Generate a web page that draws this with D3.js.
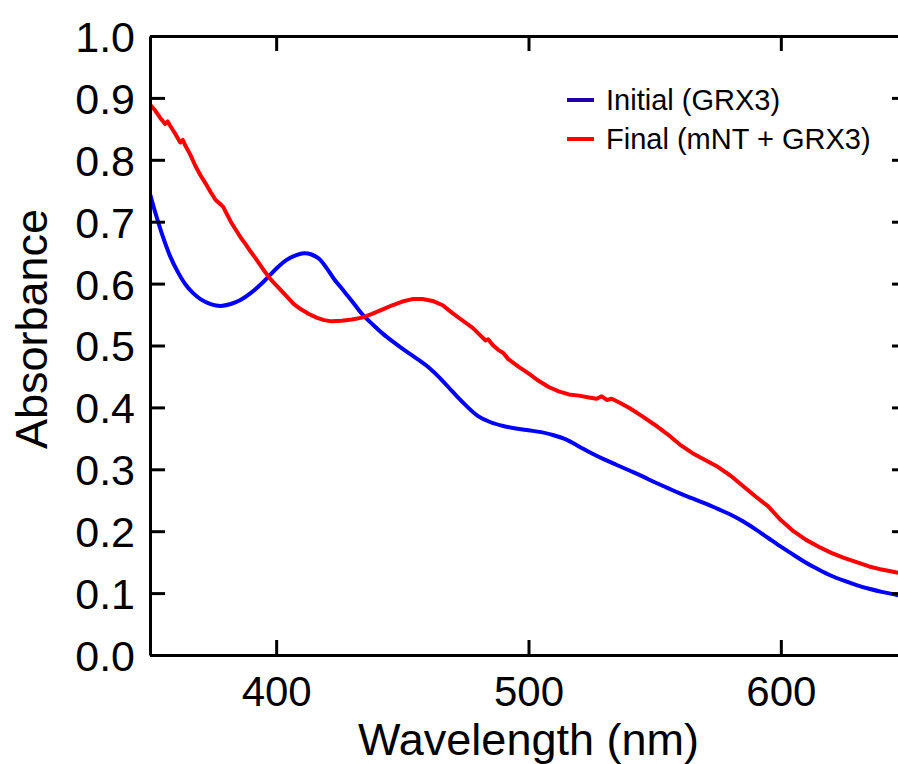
<!DOCTYPE html>
<html>
<head>
<meta charset="utf-8">
<script src="https://cdn.jsdelivr.net/npm/d3@7"></script>
<style>
  html, body { margin: 0; padding: 0; background: #fff; }
  svg { display: block; }
  text { font-family: "Liberation Sans", Arial, sans-serif; fill: #000; }
</style>
</head>
<body>
<svg id="chart" width="898" height="764"></svg>
<script>
// ---- data ----
const initialWavelength = [350,352,355,358,361,364,367,370,374,378,382,386,390,395,400,404,408,411,414,417,420,423,426,430,434,438,442,446,450,455,460,465,470,475,480,485,490,495,500,505,510,515,520,525,530,535,540,545,550,555,560,565,570,575,580,585,590,595,600,605,610,615,620,625,630,635,640,645,650];
const initialAbs = [0.745,0.716,0.677,0.644,0.619,0.599,0.585,0.575,0.567,0.564,0.567,0.574,0.585,0.603,0.624,0.638,0.646,0.649,0.647,0.640,0.625,0.607,0.592,0.572,0.551,0.535,0.520,0.507,0.495,0.481,0.466,0.447,0.425,0.404,0.386,0.376,0.370,0.366,0.363,0.360,0.355,0.348,0.337,0.326,0.316,0.307,0.298,0.289,0.279,0.270,0.261,0.253,0.245,0.236,0.227,0.216,0.203,0.189,0.175,0.162,0.149,0.138,0.128,0.120,0.113,0.107,0.102,0.098,0.093];

const finalWavelength = [350,352,354,356,357,358,360,361,362,363,364,366,368,370,372,374,376,378,379,380,382,384,386,388,390,392,395,398,401,404,407,410,413,416,419,422,426,430,434,438,442,446,450,454,458,462,466,470,474,478,481,483,484,486,488,490,492,494,496,500,504,508,512,516,520,524,527,529,531,533,536,540,545,550,555,560,565,570,575,580,585,590,595,600,605,610,615,620,625,630,635,640,645,650];
const finalAbs = [0.889,0.880,0.868,0.858,0.862,0.855,0.842,0.835,0.828,0.832,0.823,0.808,0.790,0.775,0.762,0.748,0.735,0.728,0.724,0.716,0.700,0.687,0.674,0.663,0.651,0.640,0.622,0.606,0.593,0.580,0.567,0.558,0.551,0.545,0.541,0.539,0.540,0.542,0.545,0.551,0.558,0.565,0.571,0.575,0.575,0.572,0.565,0.552,0.540,0.528,0.516,0.508,0.510,0.500,0.493,0.488,0.478,0.472,0.466,0.455,0.443,0.433,0.426,0.421,0.419,0.416,0.414,0.418,0.412,0.414,0.408,0.399,0.386,0.372,0.357,0.340,0.326,0.315,0.304,0.290,0.273,0.256,0.240,0.218,0.200,0.186,0.175,0.165,0.157,0.150,0.143,0.138,0.134,0.130];

const xTicks = [400, 500, 600];
const yTicks = [0.0,0.1,0.2,0.3,0.4,0.5,0.6,0.7,0.8,0.9,1.0];
const seriesNames = ["Initial (GRX3)", "Final (mNT + GRX3)"];
const xTitle = "Wavelength (nm)";
const yTitle = "Absorbance";

// ---- layout ----
const L = 150, R = 907, T = 36, B = 655;
const svg = d3.select("#chart");
const x = d3.scaleLinear().domain([350, 650]).range([L, R]);
const y = d3.scaleLinear().domain([0, 1.0]).range([B, T]);

// clip
svg.append("clipPath").attr("id", "clip")
  .append("rect").attr("x", L).attr("y", T).attr("width", R - L).attr("height", B - T);

// curves
const initData = initialWavelength.map((w, i) => [w, initialAbs[i]]);
const finalData = finalWavelength.map((w, i) => [w, finalAbs[i]]);

const g = svg.append("g").attr("clip-path", "url(#clip)");
g.append("path").datum(initData)
  .attr("d", d3.line().x(d => x(d[0])).y(d => y(d[1])).curve(d3.curveCatmullRom.alpha(0.5)))
  .attr("fill", "none").attr("stroke", "#0000ff").attr("stroke-width", 4)
  .attr("stroke-linejoin", "round");
g.append("path").datum(finalData)
  .attr("d", d3.line().x(d => x(d[0])).y(d => y(d[1])).curve(d3.curveLinear))
  .attr("fill", "none").attr("stroke", "#ff0000").attr("stroke-width", 4)
  .attr("stroke-linejoin", "round");

// axes
const tickLen = 15;
const axisG = svg.append("g");
const xb = d3.axisBottom(x).tickValues(xTicks).tickSizeInner(-tickLen).tickSizeOuter(0).tickFormat(d3.format("d"));
const xt = d3.axisTop(x).tickValues(xTicks).tickSizeInner(-tickLen).tickSizeOuter(0).tickFormat("");
const yl = d3.axisLeft(y).tickValues(yTicks).tickSizeInner(-tickLen).tickSizeOuter(0).tickPadding(tickLen).tickFormat(d3.format(".1f"));
const yr = d3.axisRight(y).tickValues(yTicks).tickSizeInner(-tickLen).tickSizeOuter(0).tickFormat("");

function style(sel) {
  sel.select(".domain").attr("stroke", "#000").attr("stroke-width", 3);
  sel.selectAll(".tick line").attr("stroke", "#000").attr("stroke-width", 3);
  sel.selectAll(".tick text").attr("font-size", 43).attr("font-family", "Liberation Sans, Arial, sans-serif").attr("fill", "#000");
}
const gxb = axisG.append("g").attr("transform", `translate(0,${B})`).call(xb).call(style);
gxb.selectAll(".tick text").attr("dy", null).attr("y", 51).attr("font-size", 42);
axisG.append("g").attr("transform", `translate(0,${T})`).call(xt).call(style);
const gyl = axisG.append("g").attr("transform", `translate(${L},0)`).call(yl).call(style);
gyl.selectAll(".tick text").attr("dy", "0.36em");
axisG.append("g").attr("transform", `translate(${R},0)`).call(yr).call(style);

// axis titles
svg.append("text").attr("x", (L + R) / 2).attr("y", 755).attr("text-anchor", "middle")
  .attr("font-size", 45).text(xTitle);
svg.append("text").attr("transform", `translate(47,329) rotate(-90)`).attr("text-anchor", "middle")
  .attr("font-size", 45).text(yTitle);

// legend
const legendColors = ["#2000a8", "#ff0000"];
const legendY = [100, 139];
seriesNames.forEach((name, i) => {
  svg.append("line").attr("x1", 567).attr("x2", 594).attr("y1", legendY[i]).attr("y2", legendY[i])
    .attr("stroke", legendColors[i]).attr("stroke-width", 4);
  svg.append("text").attr("x", 606).attr("y", legendY[i]).attr("dy", "0.36em")
    .attr("font-size", 29).text(name);
});
</script>
</body>
</html>
